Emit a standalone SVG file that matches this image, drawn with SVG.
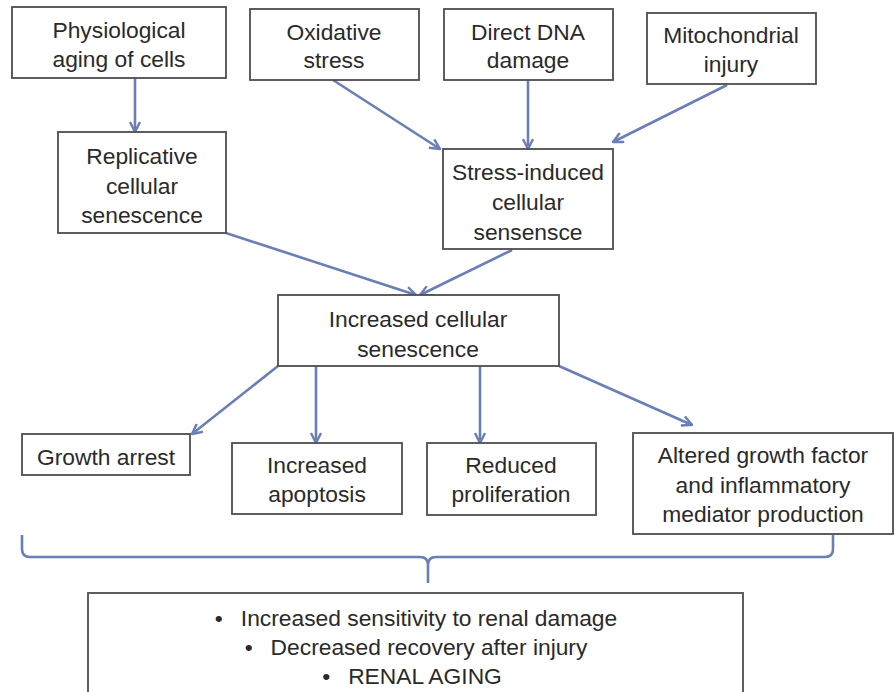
<svg xmlns="http://www.w3.org/2000/svg" width="895" height="692" viewBox="0 0 895 692">
<defs>
<style>
.box{fill:#fff;stroke:#4d4d4d;stroke-width:1.8}
.t{font-family:"Liberation Sans",Arial,sans-serif;font-size:22.8px;fill:#2a2a2a;text-anchor:middle}
.c{fill:none;stroke:#6b7eb6;stroke-width:2.6}
</style>
<marker id="ah" viewBox="0 0 12 12" markerWidth="12" markerHeight="12" refX="11" refY="6" orient="auto" markerUnits="userSpaceOnUse">
<path d="M1,1 L11,6 L1,11" fill="none" stroke="#6b7eb6" stroke-width="2.4"/>
</marker>
</defs>
<rect width="895" height="692" fill="#fff"/>
<g id="connectors">
<line class="c" x1="135" y1="78" x2="135" y2="132" marker-end="url(#ah)"/>
<line class="c" x1="333" y1="80" x2="440" y2="149" marker-end="url(#ah)"/>
<line class="c" x1="528" y1="80" x2="528" y2="149" marker-end="url(#ah)"/>
<line class="c" x1="727" y1="85" x2="613" y2="142" marker-end="url(#ah)"/>
<line class="c" x1="226" y1="233" x2="416" y2="295" marker-end="url(#ah)"/>
<line class="c" x1="512" y1="250" x2="420" y2="295" marker-end="url(#ah)"/>
<line class="c" x1="278" y1="366" x2="192" y2="434" marker-end="url(#ah)"/>
<line class="c" x1="316" y1="366" x2="316" y2="443" marker-end="url(#ah)"/>
<line class="c" x1="480" y1="366" x2="480" y2="443" marker-end="url(#ah)"/>
<line class="c" x1="559" y1="366" x2="692" y2="425" marker-end="url(#ah)"/>
<path class="c" d="M22,535 L22,549 Q22,557 30,557 L420,557 Q428,557 428,565 L428,583 M428,565 Q428,557 436,557 L825,557 Q833,557 833,549 L833,535"/>
</g>
<g id="physiological">
<rect class="box" x="12" y="7" width="214" height="71"/>
<text class="t" x="119" y="38">Physiological</text>
<text class="t" x="119" y="67">aging of cells</text>
</g>
<g id="oxidative">
<rect class="box" x="250" y="9" width="169" height="71"/>
<text class="t" x="334" y="40">Oxidative</text>
<text class="t" x="334" y="68">stress</text>
</g>
<g id="dna">
<rect class="box" x="444" y="9" width="169" height="71"/>
<text class="t" x="528" y="40">Direct DNA</text>
<text class="t" x="528" y="68">damage</text>
</g>
<g id="mito">
<rect class="box" x="647" y="13" width="169" height="71"/>
<text class="t" x="731" y="43">Mitochondrial</text>
<text class="t" x="731" y="72">injury</text>
</g>
<g id="replicative">
<rect class="box" x="58" y="132" width="168" height="101"/>
<text class="t" x="142" y="164">Replicative</text>
<text class="t" x="142" y="194">cellular</text>
<text class="t" x="142" y="223">senescence</text>
</g>
<g id="stress">
<rect class="box" x="443" y="149" width="170" height="100"/>
<text class="t" x="528" y="180">Stress-induced</text>
<text class="t" x="528" y="210">cellular</text>
<text class="t" x="528" y="240">sensensce</text>
</g>
<g id="increased">
<rect class="box" x="278" y="295" width="281" height="71"/>
<text class="t" x="418" y="327">Increased cellular</text>
<text class="t" x="418" y="357">senescence</text>
</g>
<g id="growth">
<rect class="box" x="22" y="434" width="168" height="41"/>
<text class="t" x="106" y="465">Growth arrest</text>
</g>
<g id="apoptosis">
<rect class="box" x="232" y="443" width="170" height="71"/>
<text class="t" x="317" y="473">Increased</text>
<text class="t" x="317" y="502">apoptosis</text>
</g>
<g id="proliferation">
<rect class="box" x="427" y="443" width="169" height="72"/>
<text class="t" x="511" y="473">Reduced</text>
<text class="t" x="511" y="502">proliferation</text>
</g>
<g id="altered">
<rect class="box" x="633" y="433" width="260" height="101"/>
<text class="t" x="763" y="463">Altered growth factor</text>
<text class="t" x="763" y="493">and inflammatory</text>
<text class="t" x="763" y="522">mediator production</text>
</g>
<g id="outcome">
<rect class="box" x="88" y="593" width="655" height="130"/>
<text class="t" x="416" y="626">•<tspan dx="18">Increased sensitivity to renal damage</tspan></text>
<text class="t" x="416" y="655">•<tspan dx="18">Decreased recovery after injury</tspan></text>
<text class="t" x="412" y="684">•<tspan dx="18">RENAL AGING</tspan></text>
</g>
</svg>
